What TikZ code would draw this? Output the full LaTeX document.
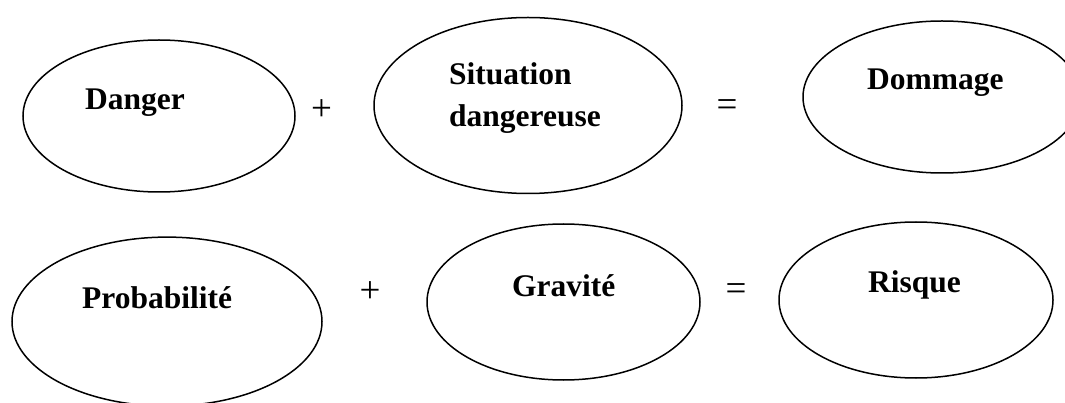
\documentclass[tikz,border=0pt]{standalone}
\usepackage{fontspec}
\setmainfont{Liberation Serif}
\usetikzlibrary{shapes.geometric}
\begin{document}
\begin{tikzpicture}[x=1pt,y=-1pt,
  oval/.style={draw, line width=1.5pt, ellipse, inner sep=0pt, outer sep=0pt},
  lbl/.style={anchor=base west, inner sep=0pt, font=\fontsize{31.5}{38}\selectfont\bfseries},
  op/.style={anchor=center, inner sep=0pt, font=\fontsize{37}{42}\selectfont}]
\useasboundingbox (0,0) rectangle (1065,403);
\clip (0,0) rectangle (1065,403);
% row 1
\node[oval, minimum width=272pt, minimum height=152pt] (e1) at (159,116) {};
\node[oval, minimum width=308pt, minimum height=176pt] (e2) at (528,105.5) {};
\node[oval, minimum width=278pt, minimum height=152pt] (e3) at (942,97) {};
\node[lbl] (t1) at (85,110) {Danger};
\node[lbl] (t2a) at (449,85) {Situation};
\node[lbl] (t2b) at (449,127) {dangereuse};
\node[lbl] (t3) at (867,90) {Dommage};
\node[op] (p1) at (321.5,110) {+};
\node[op] (q1) at (727,108) {=};
% row 2
\node[oval, minimum width=310pt, minimum height=169pt] (e4) at (167,321.6) {};
\node[oval, minimum width=273pt, minimum height=156pt] (e5) at (563.5,302) {};
\node[oval, minimum width=274pt, minimum height=156pt] (e6) at (916,300) {};
\node[lbl] (t4) at (82,308) {Probabilité};
\node[lbl] (t5) at (512,296) {Gravité};
\node[lbl] (t6) at (868,293) {Risque};
\node[op] (p2) at (370,292) {+};
\node[op] (q2) at (736,292) {=};
\end{tikzpicture}
\end{document}
